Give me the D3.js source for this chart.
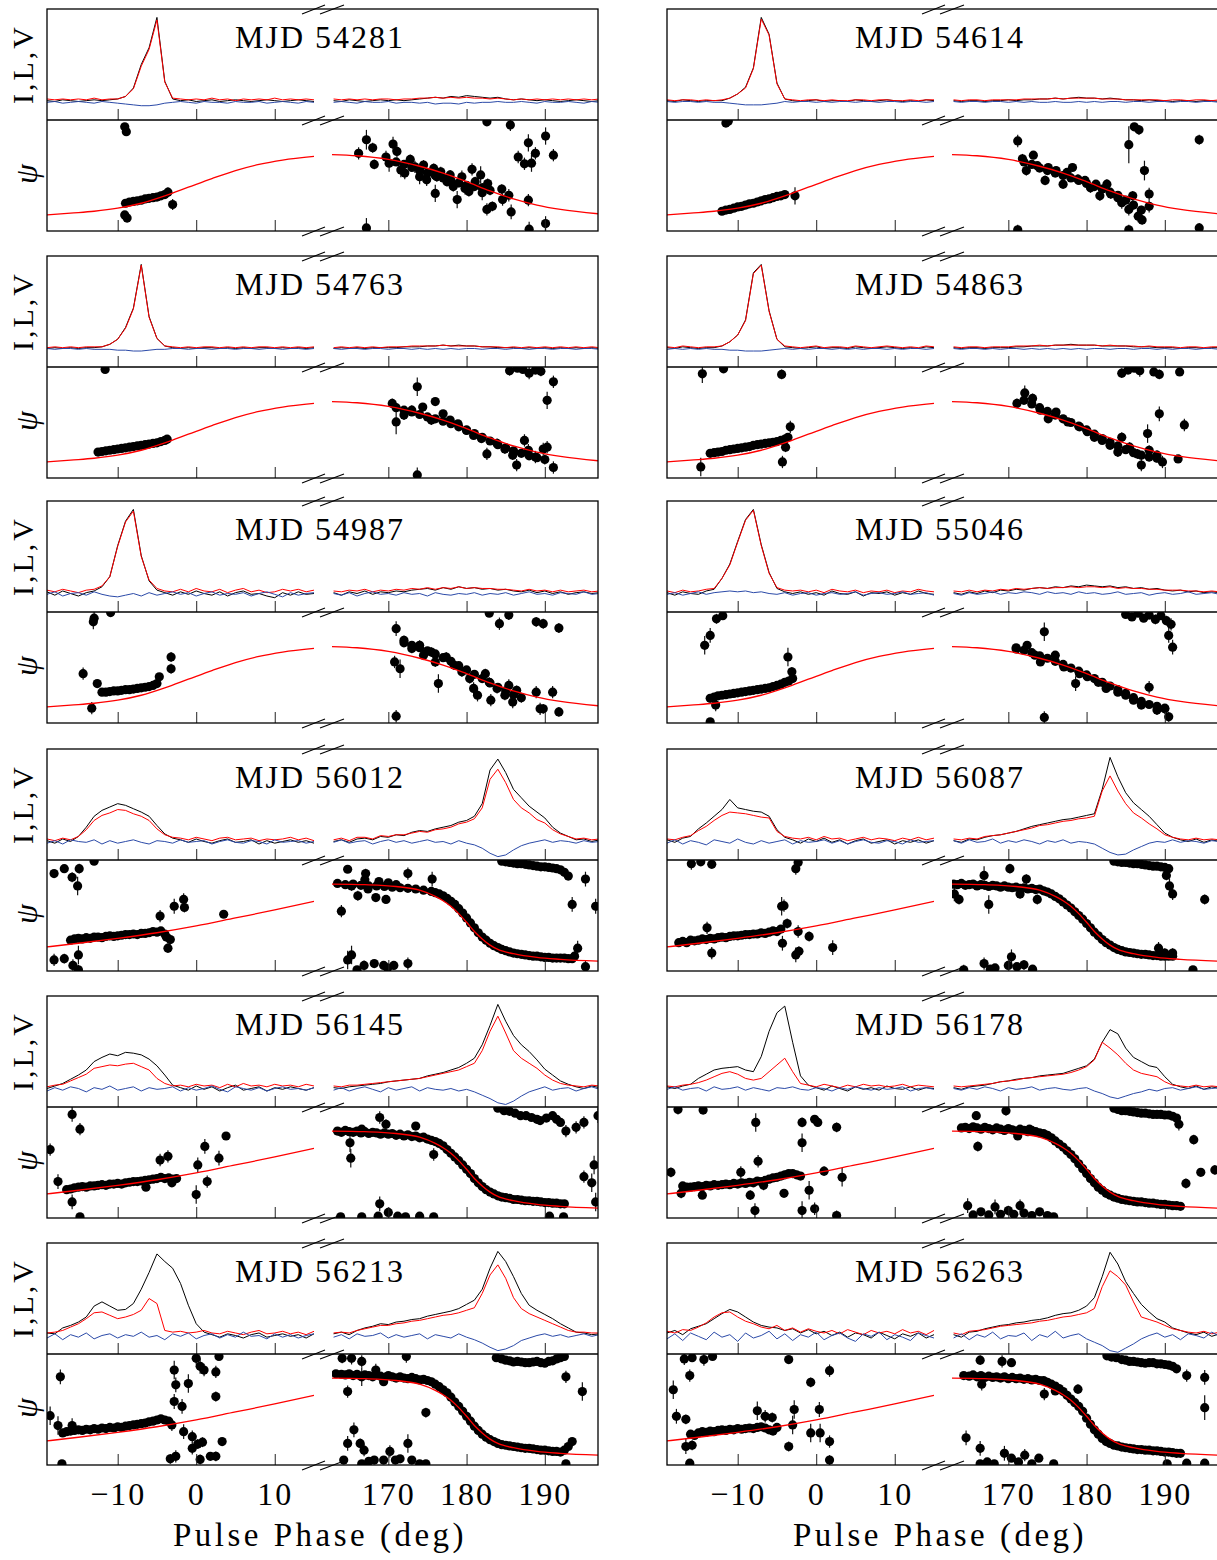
<!DOCTYPE html>
<html><head><meta charset="utf-8">
<script src="https://cdn.jsdelivr.net/npm/d3@7"></script>
<style>
body{margin:0;background:#fff}
text{font-family:"Liberation Serif","DejaVu Serif",serif;fill:#000}
</style>
</head><body>
<script>
// Epochs, one panel each (left column first, then right, row by row)
const mjdLabels = ["54281","54614","54763","54863","54987","55046","56012","56087","56145","56178","56213","56263"];

// Pulse phase grid (deg) of the two plotted windows
const phaseLeft = [-19,-18,-17,-16,-15,-14,-13,-12,-11,-10,-9,-8,-7,-6,-5,-4,-3,-2,-1,0,1,2,3,4,5,6,7,8,9,10,11,12,13,14,15];
const phaseRight = [163,164,165,166,167,168,169,170,171,172,173,174,175,176,177,178,179,180,181,182,183,184,185,186,187,188,189,190,191,192,193,194,195,196,197];

// Tick values of the broken phase axis
const ticksLeft = [-10, 0, 10];
const ticksRight = [170, 180, 190];

// Total intensity I, linear L and circular V (percent of peak I); 35 left-window values then 35 right-window values
const I54281 = [1,0,2,1,0, 1,2,1,2,3, 6,16,44,64,100, 24,3,1,2,0, 1,2,0,1,2, 1,0,1,2,1, 0,1,2,1,0,
  1,0,2,1,0, 1,2,1,2,1, 2,3,4,5,4, 6,5,7,6,5, 4,5,3,2,3, 2,1,2,1,0, 1,2,1,0,1];
const L54281 = [3,2,3,2,3, 2,4,2,3,3, 6,15,42,62,97, 23,4,3,2,3, 2,4,2,3,1, 3,2,3,2,4, 2,3,2,3,2,
  3,2,3,2,3, 2,3,3,2,3, 3,4,4,5,4, 5,4,5,4,4, 3,4,3,2,3, 2,3,2,3,2, 3,2,3,2,3];
const V54281 = [-1,0,-2,-1,0, -1,-2,0,-1,-2, -3,-4,-5,-5,-4, -2,-1,0,-1,-2, 0,-1,-1,-2,0, -1,-1,0,-2,-1, 0,-1,-2,0,-1,
  -1,0,-1,-2,0, -1,-1,0,-2,-1, -1,-2,-1,-3,-2, -2,-3,-1,-2,-1, -1,0,-1,-1,0, -1,-2,0,-1,-1, 0,-1,-2,0,-1];

const I54614 = [1,0,2,1,0, 1,1,1,4,9, 17,40,100,80,22, 3,1,0,1,2, 0,1,1,0,2, 1,0,1,2,1, 0,1,0,2,1,
  1,0,1,1,0, 1,1,2,1,2, 2,3,3,4,3, 4,5,4,4,3, 4,3,2,2,1, 2,1,1,0,1, 1,0,1,1,0];
const L54614 = [2,1,2,2,1, 2,1,2,4,9, 16,39,98,79,21, 3,2,1,2,2, 1,2,1,1,2, 2,1,2,2,1, 1,2,1,2,2,
  2,1,2,2,1, 2,2,2,2,3, 3,3,3,4,3, 4,4,4,4,3, 3,3,2,2,2, 2,2,1,2,2, 1,2,2,1,2];
const V54614 = [0,-1,0,0,-1, 0,-1,-1,-2,-3, -4,-4,-4,-3,-2, 0,-1,0,0,-1, 0,-1,0,0,-1, 0,0,-1,0,0, -1,0,0,-1,0,
  0,-1,0,0,-1, 0,0,-1,0,-1, 0,-1,-1,0,-1, -1,0,-1,0,-1, 0,0,-1,0,0, -1,0,0,-1,0, 0,-1,0,0,-1];

const I54763 = [0,1,0,1,0, 1,1,2,5,11, 25,48,100,38,12, 3,1,0,1,0, 1,1,0,1,0, 1,0,1,1,0, 1,0,1,0,1,
  0,1,0,1,0, 1,1,1,1,2, 2,2,3,3,4, 3,4,3,3,2, 2,1,1,1,0, 1,0,1,0,1, 0,1,0,1,0];
const L54763 = [1,2,1,2,1, 2,2,2,5,11, 24,47,99,37,12, 3,2,1,2,1, 2,2,1,2,1, 2,1,2,2,1, 2,1,2,1,2,
  1,2,1,2,1, 2,1,2,2,2, 3,3,3,3,4, 3,3,3,3,2, 2,2,1,2,1, 2,1,2,1,2, 1,2,1,2,1];
const V54763 = [0,-1,0,0,-1, 0,-1,-1,-1,-2, -2,-3,-3,-2,-1, -1,0,0,-1,0, 0,-1,0,0,-1, 0,0,-1,0,0, -1,0,0,-1,0,
  0,-1,0,0,-1, 0,0,-1,0,0, -1,0,-1,0,-1, 0,-1,0,0,-1, 0,0,-1,0,0, -1,0,0,-1,0, 0,-1,0,0,-1];

const I54863 = [1,0,2,1,0, 1,1,3,8,16, 34,90,100,45,11, 2,1,0,1,2, 0,1,1,0,2, 1,0,1,2,1, 0,1,0,2,1,
  1,0,1,1,0, 1,1,1,2,2, 3,3,3,4,4, 5,4,4,4,3, 3,3,3,2,2, 2,1,1,1,0, 1,1,0,1,1];
const L54863 = [2,1,3,2,1, 2,2,3,8,16, 33,89,99,44,11, 3,2,1,2,3, 1,2,2,1,3, 2,1,2,3,2, 1,2,1,3,2,
  2,1,2,2,1, 2,2,2,3,3, 3,4,3,4,4, 4,4,4,4,3, 4,3,3,3,2, 3,2,2,2,1, 2,2,1,2,2];
const V54863 = [-1,0,-1,0,-1, 0,-1,-1,-2,-2, -3,-3,-3,-2,-1, 0,-1,0,-1,0, 0,-1,0,-1,0, -1,0,0,-1,0, -1,0,0,-1,0,
  0,-1,0,0,-1, 0,-1,0,0,-1, 0,-1,0,-1,0, -1,0,-1,0,0, -1,0,0,-1,0, 0,-1,0,-1,0, 0,-1,0,0,-1];

const I54987 = [2,-2,3,0,-3, 1,3,8,20,57, 86,100,45,15,4, 1,-2,2,-1,3, 0,-2,2,-3,1, 3,-1,0,-3,-5, 1,-2,2,-1,0,
  1,-2,2,0,3, -1,2,1,3,2, 4,5,6,4,7, 5,8,6,7,5, 6,4,5,3,2, 4,1,3,0,2, -1,1,2,0,1];
const L54987 = [4,2,5,3,1, 4,5,9,20,56, 85,98,44,16,6, 3,2,5,2,6, 3,2,5,1,4, 6,2,4,1,2, 5,3,5,2,4,
  3,2,4,3,5, 2,4,3,5,4, 6,5,7,5,7, 6,8,6,7,6, 6,5,5,4,3, 5,3,4,2,4, 2,3,4,2,3];
const V54987 = [-1,2,-3,0,1, -2,2,-1,-3,-4, -2,0,-3,1,-2, 0,2,-1,1,-3, 0,2,-2,0,-1, 1,-3,0,2,-1, -4,1,-2,0,1,
  0,-2,1,-3,0, 2,-1,0,-2,1, -1,0,-3,1,-1, -2,0,-1,1,-2, 0,-1,1,-2,0, 2,-1,0,-2,1, 0,-1,2,-1,0];

const I55046 = [1,-2,2,0,-1, 3,5,18,35,62, 88,100,58,25,6, 2,0,2,-1,1, -2,3,0,-1,2, -3,1,0,2,-2, 1,-1,3,0,-1,
  1,-1,2,0,3, 1,4,3,5,4, 6,7,6,8,7, 9,8,10,9,8, 9,7,8,6,7, 5,6,4,3,4, 2,3,1,2,1];
const L55046 = [3,1,4,2,3, 5,6,18,34,61, 87,99,57,24,7, 4,3,4,2,4, 1,5,3,2,4, 1,3,2,4,1, 3,2,5,3,2,
  3,2,4,2,4, 3,5,4,6,5, 6,7,6,7,7, 8,7,8,8,7, 8,6,7,6,6, 5,5,4,4,4, 3,3,2,3,2];
const V55046 = [-1,1,-2,0,2, -1,1,2,3,2, 3,1,2,0,-1, 1,-2,0,1,-2, 0,1,-1,0,2, -2,0,1,-1,0, 2,-1,0,1,-2,
  0,-2,1,-1,0, 2,-1,1,0,2, 1,-1,2,0,1, -1,2,0,1,-1, 0,2,-1,0,1, -2,0,1,-1,0, 2,-1,0,1,-1];

const I56012 = [1,-2,3,0,6, 17,30,37,41,45, 43,39,35,30,19, 9,4,2,-1,3, 0,-2,1,3,-1, 0,2,-3,1,-2, 0,2,-1,1,-2,
  0,2,-1,3,4, 2,6,5,8,7, 11,13,12,15,17, 19,23,25,30,45, 85,98,82,62,52, 42,35,28,17,10, 6,2,3,0,2];
const L56012 = [3,1,4,2,6, 14,25,31,34,38, 37,33,30,25,15, 8,5,4,2,5, 3,1,4,5,2, 3,4,1,3,2, 3,5,2,4,1,
  2,4,1,5,5, 3,7,6,8,8, 10,12,11,14,15, 17,21,23,27,40, 74,86,70,50,40, 34,26,22,14,9, 6,3,4,2,3];
const V56012 = [-2,1,-3,2,0, -1,2,-3,1,-2, 0,2,-1,-3,1, 0,-2,2,-1,0, 1,-3,0,2,-1, -2,1,0,-3,2, -1,0,1,-2,0,
  -1,2,-2,0,1, -3,0,2,-1,1, -2,0,2,-1,0, -3,1,-2,-4,-8, -14,-18,-16,-10,-5, -2,0,2,-1,1, 0,-2,1,-1,0];

const I56087 = [2,-1,4,6,15, 22,30,38,50,40, 38,36,35,30,14, 5,2,-2,3,0, 4,-1,2,-3,1, 3,-2,0,2,-3, 1,-1,2,-2,1,
  1,-1,3,2,5, 7,8,10,12,15, 18,20,22,24,26, 27,29,31,33,62, 100,77,58,46,38, 30,20,10,5,2, 0,3,-1,2,0];
const L56087 = [3,2,5,7,13, 18,25,31,35,34, 33,31,29,28,12, 6,4,3,5,2, 6,3,4,1,3, 5,2,4,3,1, 4,2,5,2,4,
  3,2,4,3,6, 7,8,10,12,14, 16,19,20,22,24, 25,27,28,30,60, 78,60,45,34,28, 21,15,8,5,3, 2,4,2,3,2];
const V56087 = [-2,2,-3,1,-1, -4,2,0,-2,3, -1,-3,1,-2,0, 2,-3,1,-1,0, 2,-2,1,-3,0, 2,-1,-2,1,0, -3,2,-1,0,1,
  1,-2,2,-1,0, 3,-2,1,-1,2, 0,-3,1,-1,2, -2,0,-1,-3,-8, -13,-16,-15,-10,-6, -2,0,-1,2,-1, 1,0,-2,1,0];

const I56145 = [0,3,6,11,16, 22,32,37,41,39, 43,42,40,35,27, 16,4,1,-2,3, -1,2,-3,1,4, -2,0,2,-3,1, -1,2,0,-2,1,
  1,0,2,3,4, 5,6,8,9,10, 11,12,15,17,19, 22,25,30,36,52, 75,100,80,63,52, 44,34,23,16,9, 5,2,0,3,1];
const L56145 = [2,4,5,9,13, 17,24,26,28,27, 29,30,26,22,12, 6,3,4,2,5, 3,4,1,5,2, 6,3,4,2,5, 3,4,2,5,3,
  3,2,4,4,5, 6,7,8,9,10, 11,12,14,16,18, 20,22,26,30,45, 68,86,66,45,36, 30,24,16,10,6, 4,3,2,4,3];
const V56145 = [-3,1,-2,2,0, -4,1,-1,3,-2, 0,2,-3,1,-1, 0,2,-3,1,-2, 0,3,-1,-4,2, 0,-2,1,-3,0, 2,-1,0,-2,1,
  -2,1,-3,0,2, -1,-4,1,-2,0, 2,-3,1,-1,-2, 0,-3,-1,-4,-8, -12,-17,-19,-15,-9, -4,-1,2,-2,0, 1,-3,0,2,-1];

const I56178 = [2,0,3,5,12, 17,22,24,25,26, 22,20,38,68,90, 98,55,15,4,1, -2,3,0,-3,2, -1,1,-2,3,0, -1,2,-2,1,0,
  1,-1,2,3,4, 6,8,9,11,12, 13,15,16,17,18, 21,24,27,35,55, 70,65,48,37,32, 27,25,14,5,2, 0,3,-1,2,0];
const L56178 = [3,2,4,5,7, 10,14,18,20,17, 12,10,12,20,28, 36,20,6,4,2, 5,3,1,4,2, 5,3,4,2,3, 5,2,4,3,2,
  3,2,3,4,5, 6,8,9,10,12, 13,14,15,16,17, 19,22,26,34,55, 48,40,30,22,18, 16,14,8,4,3, 2,4,2,3,2];
const V56178 = [-1,2,-2,0,1, -3,2,-1,0,2, -2,1,-1,-3,1, 0,2,-1,-2,1, 0,-3,1,-1,2, 0,-2,1,-1,0, 2,-3,0,1,-1,
  0,-2,1,-1,2, 0,-3,1,-1,0, 2,-2,0,1,-1, -2,0,1,-3,-6, -10,-12,-9,-6,-4, -1,-3,0,1,-2, 0,2,-1,0,1];

const I56213 = [3,2,9,12,16, 22,35,40,35,30, 31,38,55,75,97, 88,80,62,36,14, 4,1,-2,2,0, -3,1,3,-2,0, 2,-1,1,-3,2,
  2,4,1,6,9, 11,14,13,16,17, 19,20,23,25,27, 29,32,37,42,55, 80,100,88,70,50, 36,30,25,20,14, 9,4,3,1,2];
const L56213 = [3,4,6,10,14, 20,27,28,24,20, 22,25,30,44,38, 6,4,5,3,4, 6,3,2,5,3, 1,4,6,2,3, 5,2,4,1,5,
  3,4,3,6,8, 10,12,12,14,15, 17,18,20,22,24, 25,27,30,33,50, 72,84,68,45,32, 26,22,18,14,10, 6,4,4,3,3];
const V56213 = [-3,2,-5,1,-2, 3,-4,0,2,-3, 1,-1,4,-2,0, -5,2,-1,3,-4, 0,2,-3,1,-2, 4,-1,0,-4,2, -2,1,-3,0,2,
  -2,1,-4,2,-1, 0,3,-3,1,-2, 0,2,-4,1,-1, -3,2,-2,-5,-9, -14,-18,-16,-12,-6, -3,0,2,-1,1, -2,0,2,-1,1];

const I56263 = [3,6,1,8,11, 14,20,26,31,28, 22,16,12,10,9, 6,8,3,7,2, 5,0,4,-2,3, 1,-3,4,0,-4, 2,-1,3,-3,1,
  1,-2,4,5,8, 10,12,13,15,16, 18,19,21,24,26, 27,30,35,45,70, 99,85,64,50,37, 28,20,16,9,6, 3,1,4,-1,2];
const L56263 = [5,3,7,6,10, 15,22,27,28,22, 17,14,10,8,12, 6,9,4,8,5, 3,6,2,7,4, 1,6,3,5,2, 7,3,5,1,6,
  3,1,5,6,7, 9,11,12,13,14, 15,17,18,20,22, 23,25,27,32,58, 77,70,60,40,22, 19,16,12,8,6, 4,3,5,2,4];
const V56263 = [-4,2,-6,3,-1, -5,4,-2,1,-7, 3,-3,0,5,-4, 2,-6,1,-2,4, -5,0,3,-3,-7, 2,-1,4,-5,1, -2,-6,3,0,-3,
  -3,2,-5,1,-2, 4,-4,0,-1,3, -6,1,-2,5,-3, 0,2,-4,-8,-12, -18,-20,-15,-10,-4, 0,3,-2,1,-5, 2,0,-3,4,-1];

// Position angle psi (deg) measurements: [phase, psi, 1-sigma error]
const pa54281 = [[-9,-45,4],[-8.5,-43,4],[-8,-42,3],[-7.5,-41,3],[-7,-40,3],[-6.5,-38,3],[-6,-37,3],[-5.5,-36,3],[-5,-35,3],[-4.5,-33,4],[-4,-31,4],[-3.6,-27,8],[-9.1,-64,5],[-8.8,-69,5],[-9.1,79,5],[-8.9,71,5],[-3,-47,9],
  [166.2,36,10],[167.2,58,16],[168,45,8],[168.2,18,8],[169.7,30,10],[170.6,51,12],[171.1,39,10],[170.1,20,14],[171.6,9,12],[172.8,26,8],[172.1,4,10],[173.4,14,10],[174,-2,12],[174.5,17,8],[174.9,-7,10],[175.8,11.5,8],[176,-29,14],[176.2,-2,8],[176.7,6,8],[177.5,-10,8],[177.9,1,8],[178.3,-18,8],[178.8,-39,14],[179.4,-2,10],[179.8,-21,10],[180.3,-26,8],[180.7,10,10],[181.1,-10,8],[181.8,1,14],[182,-28,12],[182.7,-13,8],[182.6,-55,10],[183.3,-50,8],[184.5,-22,8],[184.6,-39,10],[185.4,-32,10],[185.7,-59,12],[182.6,87,5],[185.6,82,10],[186.6,30,10],[187.4,19,10],[187.9,53,14],[188.3,20,14],[188.8,36,10],[187.9,-40,10],[188,-87,12],[190.1,64,14],[191.1,33,10],[190.1,-78,12],[167.2,-85,16],[171,22,6],[172,18,6],[173,13,6],[174,8,6],[175,4,6],[176,0,6],[177,-4,6],[178,-8,7],[179,-12,7],[180,-16,7],[181,-18,7],[182,-20,8],[183,-24,8]];

const pa54614 = [[-12,-58,3],[-11.5,-56,3],[-11,-55,3],[-10.5,-53,3],[-10,-51,3],[-9.5,-50,3],[-9,-48,3],[-8.5,-46,3],[-8,-45,3],[-7.5,-43,3],[-7,-41,3],[-6.5,-39,3],[-6,-38,3],[-5.5,-36,3],[-5,-34,3],[-4.5,-33,3],[-4,-31,4],[-2.7,-33,14],[-11.5,85,4],[-11.2,88,4],
  [171.2,56,10],[171.8,27,8],[172.3,8,8],[173.2,33,6],[173.7,16,6],[174.7,-8,8],[175.1,13,6],[176.1,8,6],[177,-14,8],[177.5,5,6],[178.2,13,6],[178.9,-6,8],[179.8,-8,6],[180.5,-20,8],[181.2,-14,6],[181.7,-33,8],[182.6,-14,8],[183.1,-30,8],[184,-36,8],[184.5,-44,10],[185.4,-55,10],[185.9,-33,8],[186.6,-66,10],[187.1,-72,8],[187.4,8,16],[188,-30,10],[188,-50,10],[185.4,50,30],[186.1,79,6],[186.7,74,8],[185.4,-88,8],[171.2,-88,8],[194.4,58,8],[194.4,-85,8],[172,22,5],[173,18,5],[174,12,5],[175,8,5],[176,4,5],[177,0,5],[178,-4,5],[179,-8,5],[180,-13,5],[181,-18,5],[182,-22,5],[183,-27,5],[184,-32,6],[185,-40,6],[186,-48,7],[187,-56,7]];

const pa54763 = [[-12.5,-48,3],[-12,-47,3],[-11.5,-46,3],[-11,-45,3],[-10.5,-44,3],[-10,-43,3],[-9.5,-42,3],[-9,-41,3],[-8.5,-40,3],[-8,-39,3],[-7.5,-38,3],[-7,-37,3],[-6.5,-36,3],[-6,-35,3],[-5.5,-34,3],[-5,-33,3],[-4.5,-31,3],[-4,-29,4],[-3.7,-27,5],[-11.6,86,4],
  [170.5,31,8],[171,1,20],[172,12,8],[173.7,58,15],[173.7,-85,12],[173,20,8],[174.4,25,6],[176,34,6],[175.5,4,8],[177,14,6],[177.9,4,6],[178.9,-2,6],[180,-13,6],[180.9,-21,6],[181.9,-26,6],[182.6,-51,10],[183.9,-34,8],[184.9,-43,8],[185.9,-53,8],[186.4,-69,10],[187.4,-29,10],[187.9,-45,10],[188.8,-56,10],[189.8,-43,10],[190.3,-40,10],[191.1,-73,10],[191.1,66,10],[190.3,36,14],[185.5,84,8],[186.5,88,6],[187.2,86,6],[188,80,10],[188.8,85,6],[189.5,83,8],[171,24,5],[172,20,5],[173,17,5],[174,13,5],[175,9,5],[176,6,5],[177,2,5],[178,-2,5],[179,-7,5],[180,-12,5],[181,-18,5],[182,-24,5],[183,-30,5],[184,-36,6],[185,-41,6],[186,-46,6],[187,-50,6],[188,-54,7],[189,-57,7],[190,-60,8]];

const pa54863 = [[-13.5,-50,4],[-13,-49,4],[-12.5,-48,3],[-12,-47,3],[-11.5,-45,3],[-11,-44,3],[-10.5,-43,3],[-10,-42,3],[-9.5,-41,3],[-9,-40,3],[-8.5,-39,3],[-8,-37,3],[-7.5,-36,3],[-7,-35,3],[-6.5,-34,3],[-6,-33,3],[-5.5,-32,3],[-5,-31,4],[-4.5,-29,4],[-4,-27,5],[-3.6,-24,6],[-14.7,-72,15],[-14.5,79,15],[-11.8,87,5],[-4.4,78,8],[-4.3,-64,10],[-3.3,-7,10],[-3.9,-40,8],
  [172.1,48,12],[173.1,39,8],[171.1,31,8],[174.1,20,6],[175.1,6,6],[176.1,17,6],[177.6,1,6],[179.1,-7,6],[180.1,-15,6],[181,-24,6],[182,-29,6],[183,-37,6],[184,-48,8],[184.5,-24,8],[185.5,-40,8],[186.5,-51,8],[187,-69,10],[188,-45,8],[189,-53,8],[189.7,-64,10],[191.7,-59,6],[189.3,14,12],[187.8,-18,15],[192.5,-4,10],[184.5,80,8],[185.3,85,6],[186.1,88,5],[186.8,84,10],[188.6,82,6],[189.3,78,8],[191.9,82,5],[172,36,5],[173,30,5],[174,24,5],[175,18,5],[176,12,5],[177,6,5],[178,0,5],[179,-6,5],[180,-12,5],[181,-19,5],[182,-26,5],[183,-32,5],[184,-38,5],[185,-44,6],[186,-49,6],[187,-53,6],[188,-56,7],[189,-58,7]];

const pa54987 = [[-12,-40,3],[-11.5,-40,3],[-11,-39,3],[-10.5,-38,3],[-10,-38,3],[-9.5,-37,3],[-9,-36,3],[-8.5,-36,3],[-8,-35,3],[-7.5,-34,3],[-7,-33,3],[-6.5,-32,3],[-6,-31,3],[-5.5,-29,4],[-5,-26,4],[-4.7,-15,5],[-3.2,17,8],[-3.2,-2,8],[-14.4,-10,10],[-12.6,-26,5],[-13.3,-66,10],[-13.1,74,12],[-13,80,10],[-10.9,89,4],
  [171,63,12],[170.8,9,10],[171.5,-2,15],[171,-79,10],[172,44,8],[173,31,8],[174,36,8],[174.5,20,8],[175.5,25,8],[176,9,8],[176.4,-26,15],[177.4,17,8],[178.4,4,8],[179.4,-7,8],[180.4,-18,8],[180.9,-34,10],[181.4,-45,10],[182.4,-10,8],[182.9,-24,8],[183.1,-53,10],[183.9,-34,8],[184.9,-45,8],[185.4,-29,10],[185.9,-56,10],[186.4,-37,8],[188.9,-40,10],[189.4,-67,10],[189.8,-67,8],[191.8,-72,8],[191,-40,10],[182.9,88,6],[184.2,71,10],[185.4,85,8],[188.9,74,8],[189.8,71,8],[191.8,64,8],[172,40,6],[173,36,6],[174,32,6],[175,27,6],[176,22,6],[177,16,6],[178,10,6],[179,3,6],[180,-4,6],[181,-11,6],[182,-18,6],[183,-25,6],[184,-32,7],[185,-38,7],[186,-44,8],[187,-49,8]];

const pa55046 = [[-13.5,-50,4],[-13,-48,3],[-12.5,-46,3],[-12,-45,3],[-11.5,-44,3],[-11,-43,3],[-10.5,-42,3],[-10,-41,3],[-9.5,-40,3],[-9,-39,3],[-8.5,-38,3],[-8,-37,3],[-7.5,-36,3],[-7,-35,3],[-6.5,-34,3],[-6,-33,3],[-5.5,-31,3],[-5,-29,3],[-4.5,-27,4],[-4,-24,4],[-3.5,-22,5],[-3,-18,6],[-13.5,-88,5],[-12.8,-61,10],[-14.2,36,15],[-13.5,52,12],[-12.7,79,8],[-11.9,84,5],[-3.6,17,15],[-3.1,-7,8],
  [171,30,6],[174.6,58,15],[172.4,36,6],[173.4,20,6],[174.1,9,6],[176,20,6],[177.1,1,6],[178.6,-26,12],[179.1,-10,6],[180.1,-15,6],[181.5,-24,6],[182.5,-34,6],[184,-40,6],[185,-45,6],[186,-53,6],[187,-61,6],[188,-32,10],[189,-69,8],[190,-67,8],[190.5,-80,8],[174.6,-81,10],[185,86,6],[185.8,82,6],[186.6,88,5],[187.3,80,6],[188,85,5],[188.8,78,8],[189.5,84,6],[190.2,76,8],[191,33,12],[190.5,52,12],[190.8,70,10],[171,32,5],[172,28,5],[173,24,5],[174,19,5],[175,15,5],[176,10,5],[177,5,5],[178,-1,5],[179,-6,5],[180,-12,5],[181,-18,5],[182,-24,5],[183,-30,5],[184,-36,5],[185,-42,5],[186,-49,6],[187,-55,6],[188,-60,6],[189,-63,7],[190,-66,7]];

const pa56012 = [[-16,-40,5],[-15.5,-38,5],[-15,-37,4],[-14.5,-38,4],[-14,-36,3],[-13.5,-37,3],[-13,-35,3],[-12.5,-35,3],[-12,-36,3],[-11.5,-34,3],[-11,-33,3],[-10.5,-34,3],[-10,-33,3],[-9.5,-32,3],[-9,-31,3],[-8.5,-31,3],[-8,-30,3],[-7.5,-31,3],[-7,-29,3],[-6.5,-29,3],[-6,-28,3],[-5.5,-26,4],[-5,-27,4],[-4.5,-25,5],[-4,-30,6],[-3.8,-35,6],
  [-4.6,-1,10],[-2.8,15,12],[-1.6,26,10],[-1.5,13,8],[-3.6,-53,8],[-3.3,-39,8],[3.5,2,5],[-18.1,68,6],[-16.8,76,6],[-15.8,62,8],[-15.1,48,15],[-14.9,76,8],[-13,88,5],[-18.1,-72,10],[-16.8,-70,8],[-15.7,-81,10],[-15,-64,15],[-15,-88,8],
  [163.5,52,3],[164.5,50,3],[165.5,51,3],[166.5,49,3],[167.5,48,3],[168.5,48,3],[169.5,47,3],[170.5,46,3],[171.5,45,3],[172.5,44,3],[173.5,43,3],[174.5,41,3],[175.5,39,3],[176,37,3],[176.5,35,3],[177,32,3],[177.5,28,3],[178,23,3],[178.5,18,3],[179,11,3],[179.5,4,3],[180,-4,3],[180.5,-12,3],[181,-20,3],[181.5,-28,3],[182,-35,3],[182.5,-40,3],[183,-45,3],[183.5,-49,3],[184,-52,3],[184.5,-55,3],[185,-57,3],[185.5,-59,3],[186,-61,3],[186.5,-62,3],[187,-63,3],[187.5,-64,3],[188,-65,3],[188.5,-66,3],[189,-66,3],[189.5,-67,3],[190,-68,3],[190.5,-68,3],[191,-69,3],[191.5,-69,3],[192,-69,4],[192.5,-69,4],[193,-70,5],[193.5,-70,5],
  [164.8,75,6],[165.3,48,8],[164,7,10],[166.1,32,8],[167.1,68,8],[167.4,43,6],[168.4,29,6],[169.7,26,6],[172.5,68,10],[175.6,59,12],[167,58,4],[168.8,55,4],[170,53,4],[171,50,5],[164.8,-72,15],[165.3,-64,15],[166.9,-81,8],[168.2,-78,6],[169.4,-81,6],[170.7,-81,6],[172.5,-78,10],[166,-88,5],[169.9,-85,5],[193.5,18,12],[195.2,59,12],[196.5,15,12],[194.2,-53,12],[195.2,-83,10],[193.8,-66,8],
  [184.5,88,3],[185,87,3],[185.5,86,3],[186,85,3],[186.5,84,3],[187,84,3],[187.5,83,3],[188,82,3],[188.5,81,3],[189,80,3],[189.5,79,3],[190,79,3],[190.5,78,3],[191,77,3],[191.5,76,4],[192,74,4],[192.5,70,5],[193,64,6]];

const pa56087 = [[-17.5,-44,5],[-17,-42,5],[-16.5,-44,4],[-16,-40,4],[-15.5,-41,4],[-15,-40,4],[-14.5,-38,4],[-14,-39,3],[-13.5,-37,3],[-13,-38,3],[-12.5,-36,3],[-12,-35,3],[-11.5,-36,3],[-11,-34,3],[-10.5,-33,3],[-10,-33,3],[-9.5,-32,3],[-9,-31,3],[-8.5,-31,3],[-8,-30,3],[-7.5,-30,3],[-7,-28,3],[-6.5,-29,3],[-6,-27,3],[-5.5,-25,4],[-5,-26,4],[-4.5,-22,5],
  [-4.4,15,15],[-4.1,16,10],[-4.3,-45,12],[-3.7,-13,8],[-2.3,-26,10],[-2.6,-64,12],[-2.2,-58,8],[-0.9,-34,8],[2.1,-52,12],[-13.9,-20,10],[-13.3,-61,10],[-15.9,84,10],[-14.7,87,5],[-13.3,83,6],[-2.6,76,10],[-2.3,86,5],
  [163,51,4],[163.5,50,3],[164,52,3],[164.5,49,3],[165,50,3],[165.5,51,3],[166,48,3],[166.5,50,3],[167,49,3],[167.5,47,3],[168,49,3],[168.5,48,3],[169,46,3],[169.5,48,3],[170,46,3],[170.5,45,3],[171,46,3],[171.5,44,3],[172,45,3],[172.5,43,3],[173,44,3],[173.5,42,3],[174,43,3],[174.5,40,3],[175,38,3],[175.5,35,3],[176,31,3],[176.5,27,3],[177,22,3],[177.5,17,3],[178,12,3],[178.5,6,3],[179,0,3],[179.5,-6,3],[180,-13,3],[180.5,-20,3],[181,-27,3],[181.5,-33,3],[182,-39,3],[182.5,-44,3],[183,-48,3],[183.5,-52,3],[184,-55,3],[184.5,-57,3],[185,-59,3],[185.5,-60,3],[186,-61,3],[186.5,-62,3],[187,-63,3],[187.5,-63,3],[188,-64,3],[188.5,-65,3],[189,-65,3],[189.5,-66,3],[190,-66,3],[190.5,-66,4],[191,-66,4],
  [163.1,35,12],[163.7,26,8],[166.9,65,15],[167.5,18,15],[170.2,76,8],[172.3,59,8],[171.5,35,8],[173.7,26,8],[164.3,-88,8],[166.9,-78,10],[167.7,-87,6],[168.3,-85,6],[170,-81,8],[170.4,-67,12],[171.1,-83,6],[172,-80,8],[173.1,-87,6],[190.2,65,8],[190.6,48,12],[191,35,10],[195.1,26,8],[193.6,-88,6],[189.2,-53,10],[190,-61,8],[191,-61,8],
  [183.5,88,3],[184,87,3],[184.5,86,3],[185,86,3],[185.5,85,3],[186,84,3],[186.5,84,3],[187,83,3],[187.5,82,3],[188,81,3],[188.5,80,3],[189,80,3],[189.5,79,3],[190,78,4],[190.5,76,5]];

const pa56145 = [[-16.5,-44,5],[-16,-43,4],[-15.5,-41,4],[-15,-40,4],[-14.5,-39,3],[-14,-40,3],[-13.5,-38,3],[-13,-38,3],[-12.5,-37,3],[-12,-36,3],[-11.5,-37,3],[-11,-35,3],[-10.5,-35,3],[-10,-34,3],[-9.5,-35,3],[-9,-33,3],[-8.5,-32,3],[-8,-31,3],[-7.5,-31,3],[-7,-30,3],[-6.5,-29,3],[-6,-28,3],[-5.5,-27,4],[-5,-26,4],[-4.5,-24,4],[-4,-26,5],[-3.5,-25,5],[-3,-27,5],[-2.5,-26,5],
  [-6.4,-40,5],[-4.6,4,10],[-3.6,10,10],[-3.1,-33,6],[-18.6,21,10],[-17.6,-31,12],[-15.8,78,12],[-14.8,54,10],[-15.8,-64,12],[-14.8,-88,6],[0,-52,15],[0.2,-4,12],[1.1,26,12],[1.4,-31,10],[2.9,7,12],[3.8,43,6],
  [163.5,51,3],[164,49,3],[164.5,52,3],[165,50,3],[165.5,49,3],[166,51,3],[166.5,48,3],[167,50,3],[167.5,47,3],[168,49,3],[168.5,48,3],[169,46,3],[169.5,48,3],[170,46,3],[170.5,47,3],[171,44,3],[171.5,46,3],[172,43,3],[172.5,45,3],[173,42,3],[173.5,43,3],[174,40,3],[174.5,41,3],[175,38,3],[175.5,36,3],[176,34,3],[176.5,31,3],[177,27,3],[177.5,21,3],[178,15,3],[178.5,9,3],[179,3,3],[179.5,-4,3],[180,-11,3],[180.5,-18,3],[181,-26,3],[181.5,-33,3],[182,-39,3],[182.5,-44,3],[183,-48,3],[183.5,-51,3],[184,-54,3],[184.5,-56,3],[185,-57,3],[185.5,-58,3],[186,-60,3],[186.5,-60,3],[187,-61,3],[187.5,-62,3],[188,-62,3],[188.5,-63,3],[189,-63,3],[189.5,-64,3],[190,-65,3],[190.5,-65,3],[191,-66,3],[191.5,-66,4],[192,-67,4],[192.5,-67,5],
  [165.1,32,15],[165.2,7,15],[166.6,54,6],[168.9,73,10],[169.7,62,8],[173.5,59,6],[175.8,13,10],[163.9,-88,6],[166.6,-88,6],[168.7,-87,6],[168.9,-67,12],[170,-81,8],[171.2,-87,6],[172.2,-88,5],[174,-87,6],[175.8,-88,5],[190.6,-87,6],[192.4,-88,6],[195,-23,10],[196,-33,15],[196.3,-4,15],[196.5,-64,15],[192.7,51,10],[194,57,10],[195,65,10],[196.8,76,12],
  [184,88,3],[184.8,84,3],[185.5,83,3],[186.2,80,3],[186.9,76,3],[187.6,76,3],[188.3,73,3],[189,70,3],[189.4,68,4],[190.2,72,4],[191,76,4],[191.5,70,4],[192,65,5]];

const pa56178 = [[-17,-38,5],[-16.5,-40,4],[-16,-40,4],[-15.5,-39,4],[-15,-38,3],[-14.5,-39,3],[-14,-37,3],[-13.5,-38,3],[-13,-36,3],[-12.5,-37,3],[-12,-36,3],[-11.5,-35,3],[-11,-36,3],[-10.5,-34,3],[-10,-35,3],[-9.5,-33,3],[-9,-34,3],[-8.5,-32,3],[-8,-33,3],[-7.5,-30,4],[-7,-31,4],[-6.5,-29,5],[-6,-27,5],[-5.5,-25,5],[-5,-24,5],[-4.5,-22,5],[-4,-20,5],[-3.5,-18,5],[-3,-18,5],[-2.5,-20,5],[-2,-22,6],
  [-18.5,-16,8],[-17.2,-50,8],[-14.5,-53,6],[-9.6,-16,10],[-8.4,-53,8],[-7.8,-78,12],[-7.4,2,10],[-6.7,-37,8],[-4.1,-50,6],[-0.9,-45,15],[-0.2,-75,10],[1,-14,8],[3.3,-24,15],[-1.8,-78,15],[2.6,-86,8],[-14.4,85,5],[-7.7,65,15],[-1.8,65,8],[-1.8,32,15],[-0.2,70,6],[0.2,65,6],[2.6,57,8],[-17.6,86,8],
  [164,56,4],[164.5,57,4],[165,55,3],[165.5,58,3],[166,56,3],[166.5,54,3],[167,57,3],[167.5,55,3],[168,53,3],[168.5,56,3],[169,54,3],[169.5,52,3],[170,55,3],[170.5,53,3],[171,51,3],[171.5,54,3],[172,52,3],[172.5,50,3],[173,52,3],[173.5,50,3],[174,48,3],[174.5,47,3],[175,44,3],[175.5,40,3],[176,35,3],[176.5,30,3],[177,25,3],[177.5,19,3],[178,13,3],[178.5,6,3],[179,-2,3],[179.5,-10,3],[180,-18,3],[180.5,-26,3],[181,-33,3],[181.5,-40,3],[182,-45,3],[182.5,-50,3],[183,-53,3],[183.5,-56,3],[184,-58,3],[184.5,-60,3],[185,-61,3],[185.5,-62,3],[186,-63,3],[186.5,-64,3],[187,-64,3],[187.5,-65,3],[188,-66,3],[188.5,-66,3],[189,-67,3],[189.5,-68,3],[190,-68,3],[190.5,-69,3],[191,-70,3],[191.5,-70,4],[192,-71,4],
  [165.9,76,6],[166.1,26,8],[169.7,84,8],[172.7,54,6],[171.2,43,6],[193.7,37,8],[192.7,-34,8],[194.6,-16,6],[196.4,-12,8],[164.8,-70,12],[165.5,-85,6],[166.5,-80,6],[167.5,-85,6],[168.3,-72,12],[169,-84,6],[170,-78,8],[170.7,-84,6],[171.5,-70,10],[172,-82,6],[173,-86,6],[174,-80,6],[175,-86,6],[175.8,-88,5],
  [183.5,88,3],[184,86,3],[184.5,84,3],[185,84,3],[185.5,83,3],[186,82,3],[186.5,81,3],[187,80,3],[187.5,80,3],[188,79,3],[188.5,78,3],[189,78,3],[189.5,78,3],[190,77,3],[190.5,77,3],[191,75,4],[191.5,72,4],[191.8,62,10]];

const pa56213 = [[-17,-38,5],[-16.5,-36,5],[-16,-35,4],[-15.5,-34,4],[-15,-33,4],[-14.5,-34,4],[-14,-32,3],[-13.5,-33,3],[-13,-31,3],[-12.5,-32,3],[-12,-30,3],[-11.5,-31,3],[-11,-29,3],[-10.5,-30,3],[-10,-28,3],[-9.5,-29,3],[-9,-27,3],[-8.5,-26,3],[-8,-25,3],[-7.5,-24,3],[-7,-23,3],[-6.5,-22,3],[-6,-20,3],[-5.5,-19,3],[-5,-17,3],[-4.5,-15,4],[-4,-17,4],[-3.5,-19,5],
  [-18.6,-10,15],[-17.6,-26,15],[-17.3,53,12],[-15.8,-26,12],[-17.1,-88,6],[-2.8,64,15],[-2.6,40,12],[-2.8,13,12],[-3.1,-25,10],[-2.6,-76,10],[-1.8,5,12],[-1.6,-36,12],[-1,42,15],[-0.5,-44,10],[-0.5,-63,10],[0,83,10],[0.5,70,12],[0.2,-56,8],[0.5,-81,8],[1,64,10],[0.8,-53,8],[2.5,61,10],[2.5,21,8],[2.9,86,5],[2.5,-76,8],[3.3,-52,5],[1.8,-76,6],[-3.3,-80,8],
  [163.3,58,4],[164,57,4],[164.5,56,3],[165,58,3],[165.5,55,3],[166,57,3],[166.5,54,3],[167,56,3],[167.5,55,3],[168,53,3],[168.5,56,3],[169,54,3],[169.5,52,3],[170,55,3],[170.5,53,3],[171,51,3],[171.5,53,3],[172,51,3],[172.5,50,3],[173,52,3],[173.5,50,3],[174,48,3],[174.5,49,3],[175,47,3],[175.5,45,3],[176,41,3],[176.5,37,3],[177,32,3],[177.5,27,3],[178,20,3],[178.5,12,3],[179,5,3],[179.5,-3,3],[180,-11,3],[180.5,-19,3],[181,-27,3],[181.5,-34,3],[182,-40,3],[182.5,-45,3],[183,-49,3],[183.5,-52,3],[184,-55,3],[184.5,-57,3],[185,-58,3],[185.5,-59,3],[186,-60,3],[186.5,-61,3],[187,-62,3],[187.5,-63,3],[188,-63,3],[188.5,-64,3],[189,-65,3],[189.5,-66,3],[190,-66,3],[190.5,-67,3],[191,-68,3],[191.5,-68,3],[192,-69,4],[192.5,-66,4],[193,-60,5],[193.5,-52,5],
  [164.8,29,10],[166.6,53,15],[168.4,64,10],[169.4,45,6],[172.3,86,10],[174.8,-5,8],[164.1,83,8],[165.3,83,10],[166.6,78,10],[164.3,-82,6],[164.8,-55,12],[165.6,-33,12],[166.4,-55,8],[166.9,-66,10],[166.6,-88,5],[168.2,-82,6],[169.4,-82,6],[170.2,-68,10],[170.9,-82,6],[172.5,-55,15],[173,-82,6],[174,-88,5],[174.8,-88,5],[192.7,53,10],[194.8,29,15],[192.7,-88,6],[171.5,-80,6],[167.5,-84,6],
  [183.8,84,3],[184.5,82,3],[185,80,3],[185.5,79,3],[186,77,3],[186.5,78,3],[187,77,3],[187.5,76,3],[188,76,3],[188.5,77,3],[189,78,3],[189.5,76,3],[190,75,3],[190.5,78,3],[191,79,3],[191.5,82,3],[192,84,3],[192.5,86,3]];

const pa56263 = [[-16,-40,5],[-15.5,-42,5],[-15,-38,4],[-14.5,-36,4],[-14,-37,4],[-13.5,-35,3],[-13,-36,3],[-12.5,-34,3],[-12,-33,3],[-11.5,-34,3],[-11,-32,3],[-10.5,-33,3],[-10,-31,3],[-9.5,-32,3],[-9,-31,3],[-8.5,-30,3],[-8,-31,3],[-7.5,-29,4],[-7,-28,4],[-6.5,-30,4],[-6,-33,4],[-5.5,-35,5],[-5,-29,5],
  [-7.5,-2,15],[-6.5,-11,10],[-5.6,-13,8],[-3.5,-60,8],[-3,-25,15],[-2.8,0,15],[-0.7,44,8],[-0.7,-38,15],[0.4,0,12],[0.5,-38,15],[1.7,63,10],[1.7,-52,10],[1.7,-82,8],[-3.5,81,5],[-18.2,32,15],[-17.8,-11,12],[-16.6,-16,8],[-16.6,-60,12],[-16.1,-87,6],[-15.8,-58,8],[-16.8,82,10],[-16.1,55,10],[-15.8,84,5],[-14.3,81,10],[-13.2,86,5],
  [164.3,55,4],[165,54,3],[165.5,56,3],[166,53,3],[166.5,55,3],[167,52,3],[167.5,54,3],[168,52,3],[168.5,53,3],[169,51,3],[169.5,53,3],[170,50,3],[170.5,52,3],[171,50,3],[171.5,51,3],[172,49,3],[172.5,50,3],[173,48,3],[173.5,49,3],[174,47,3],[174.5,47,3],[175,44,3],[175.5,41,3],[176,38,3],[176.5,34,3],[177,29,3],[177.5,23,3],[178,17,3],[178.5,11,3],[179,5,3],[179.5,-3,3],[180,-14,3],[180.5,-24,3],[181,-33,3],[181.5,-40,3],[182,-47,3],[182.5,-52,3],[183,-55,3],[183.5,-58,3],[184,-59,3],[184.5,-61,3],[185,-62,3],[185.5,-63,3],[186,-64,3],[186.5,-65,3],[187,-65,3],[187.5,-66,3],[188,-66,3],[188.5,-67,3],[189,-67,3],[189.5,-68,3],[190,-69,3],[190.5,-69,3],[191,-70,3],[191.5,-71,3],[192,-71,4],
  [166.4,80,8],[166.6,41,10],[169.2,78,10],[170.4,76,6],[174.6,25,10],[178.9,33,8],[176,30,6],[164.6,-46,12],[166.4,-63,12],[166.4,-88,5],[167.3,-85,6],[168.2,-88,5],[169.5,-71,12],[170.4,-79,6],[171.3,-85,6],[172.1,-74,10],[173,-88,5],[173.9,-79,6],[175.8,-88,5],[192.8,55,10],[195.1,52,12],[195.1,3,20],[195.1,-87,6],[192.8,-87,6],[190.3,-88,5],
  [182.6,87,3],[183.2,85,3],[183.8,84,3],[184.5,81,3],[185,80,3],[185.5,78,3],[186,78,3],[186.5,77,3],[187,76,3],[187.5,75,3],[188,76,3],[188.5,76,3],[189,74,3],[189.5,74,3],[190,73,3],[190.5,72,3],[191,70,4],[191.5,66,6]];

// Rotating-vector-model fits: [phase, psi]
const rvmEarlyLeft = [[-19,-64],[-16,-61],[-13,-58],[-10,-53],[-7,-45],[-4,-33],[-1,-19],[2,-5],[5,8],[8,18],[11,25],[15,31]];
const rvmEarlyRight = [[162.8,34],[166,32],[170,26],[174,15],[177,4],[180,-10],[183,-25],[186,-38],[189,-48],[192,-55],[196.8,-62]];
const rvmLateLeft = [[-19,-51],[-15,-45],[-10,-37],[-5,-28],[0,-17],[5,-4],[10,9],[15,23]];
const rvmLateRight = [[162.8,51],[167,50],[171,47],[174,41],[176,31],[177,24],[178,15],[179,3],[180,-11],[181,-26],[182,-38],[183,-48],[184,-55],[186,-62],[189,-68],[192,-71],[196.8,-74]];

const profI = [I54281,I54614,I54763,I54863,I54987,I55046,I56012,I56087,I56145,I56178,I56213,I56263];
const profL = [L54281,L54614,L54763,L54863,L54987,L55046,L56012,L56087,L56145,L56178,L56213,L56263];
const profV = [V54281,V54614,V54763,V54863,V54987,V55046,V56012,V56087,V56145,V56178,V56213,V56263];
const paSets = [pa54281,pa54614,pa54763,pa54863,pa54987,pa55046,pa56012,pa56087,pa56145,pa56178,pa56213,pa56263];

// ---- layout ----
const W = 1217, H = 1560;
const rowTops = [9, 256, 501, 749, 996, 1243];
const colLefts = [47, 667];
const subH = 111;          // height of each sub-panel
const leftW = 267;         // width of left phase window
const rightX = 285;        // offset of right phase window
const frameW = 551;        // full frame width
const FONT = '"Liberation Serif","DejaVu Serif",serif';
const colors = {I: "#000000", L: "#ff0000", V: "#2b4aa8"};

const svg = d3.select("body").append("svg").attr("width", W).attr("height", H);
const defs = svg.append("defs");

mjdLabels.forEach((mjd, i) => {
  const row = Math.floor(i / 2), col = i % 2;
  const x0 = colLefts[col], top = rowTops[row];
  const xL = d3.scaleLinear().domain([-19, 15]).range([x0, x0 + leftW]);
  const xR = d3.scaleLinear().domain([162.8, 196.8]).range([x0 + rightX, x0 + frameW]);
  const yProf = d3.scaleLinear().domain([-22, 110]).range([top + subH, top]);
  const yPA = d3.scaleLinear().domain([-90, 90]).range([top + 2 * subH, top + subH]);
  const g = svg.append("g");

  const clip = (sx, y, key) => {
    const id = `clip${i}${key}`;
    const [a, b] = sx.range();
    defs.append("clipPath").attr("id", id).append("rect")
      .attr("x", a).attr("y", y).attr("width", b - a).attr("height", subH);
    return `url(#${id})`;
  };

  const segs = [
    {x: xL, ph: phaseLeft, off: 0, rvm: i < 6 ? rvmEarlyLeft : rvmLateLeft, inSeg: p => p < 90},
    {x: xR, ph: phaseRight, off: 35, rvm: i < 6 ? rvmEarlyRight : rvmLateRight, inSeg: p => p >= 90}
  ];

  segs.forEach((s, k) => {
    const cProf = clip(s.x, top, "p" + k);
    const cPA = clip(s.x, top + subH, "a" + k);
    // polarization profiles
    [[profI[i], colors.I], [profL[i], colors.L], [profV[i], colors.V]].forEach(([arr, c]) => {
      const vals = arr.slice(s.off, s.off + 35);
      const line = d3.line().x((d, j) => s.x(s.ph[j])).y(d => yProf(d));
      g.append("path").attr("d", line(vals)).attr("fill", "none")
        .attr("stroke", c).attr("stroke-width", 1).attr("stroke-linejoin", "round").attr("clip-path", cProf);
    });
    // position angles
    const pts = paSets[i].filter(d => s.inSeg(d[0]));
    const gp = g.append("g").attr("clip-path", cPA);
    gp.selectAll("line.err").data(pts).join("line").attr("class", "err")
      .attr("x1", d => s.x(d[0])).attr("x2", d => s.x(d[0]))
      .attr("y1", d => yPA(d[1] - d[2])).attr("y2", d => yPA(d[1] + d[2]))
      .attr("stroke", "#111").attr("stroke-width", 1.2);
    gp.selectAll("circle").data(pts).join("circle")
      .attr("cx", d => s.x(d[0])).attr("cy", d => yPA(d[1])).attr("r", 4.6).attr("fill", "#000");
    // RVM fit
    const rline = d3.line().x(d => s.x(d[0])).y(d => yPA(d[1])).curve(d3.curveMonotoneX);
    gp.append("path").attr("d", rline(s.rvm)).attr("fill", "none")
      .attr("stroke", "#ff0000").attr("stroke-width", 1.3);
    // ticks
    [top + subH, top + 2 * subH].forEach(yb => {
      g.append("g").attr("transform", `translate(0,${yb})`)
        .call(d3.axisBottom(s.x).tickValues(k === 0 ? ticksLeft : ticksRight).tickSize(-11).tickFormat(""))
        .call(a => { a.select(".domain").remove(); a.selectAll("line").attr("stroke", "#222").attr("stroke-width", 1); });
    });
  });

  // frame
  g.append("rect").attr("x", x0).attr("y", top).attr("width", frameW).attr("height", 2 * subH)
    .attr("fill", "none").attr("stroke", "#000").attr("stroke-width", 1.3);
  g.append("line").attr("x1", x0).attr("x2", x0 + frameW).attr("y1", top + subH).attr("y2", top + subH)
    .attr("stroke", "#000").attr("stroke-width", 1.3);

  // axis-break marks
  [top, top + subH, top + 2 * subH].forEach(y => {
    [[255, 278], [273, 297]].forEach(([a, b]) => {
      g.append("line").attr("x1", x0 + a).attr("y1", y + 5).attr("x2", x0 + b).attr("y2", y - 4)
        .attr("stroke", "#000").attr("stroke-width", 1.1);
    });
  });

  // epoch label
  g.append("text").attr("x", x0 + 273).attr("y", top + 39).attr("text-anchor", "middle")
    .attr("font-family", FONT).attr("font-size", 32).attr("letter-spacing", 2)
    .text("MJD " + mjd);

  // y labels on the left column
  if (col === 0) {
    g.append("text").attr("transform", `translate(33,${top + 55}) rotate(-90)`)
      .attr("text-anchor", "middle").attr("font-family", FONT).attr("font-size", 30)
      .attr("letter-spacing", 3).text("I,L,V");
    g.append("text").attr("transform", `translate(37,${top + 165}) rotate(-90)`)
      .attr("text-anchor", "middle").attr("font-family", FONT).attr("font-size", 32)
      .attr("font-style", "italic").text("ψ");
  }

  // phase tick labels and axis title under the bottom row
  if (row === 5) {
    segs.forEach((s, k) => {
      g.append("g").attr("transform", `translate(0,${top + 2 * subH})`)
        .call(d3.axisBottom(s.x).tickValues(k === 0 ? ticksLeft : ticksRight).tickSize(0).tickPadding(17))
        .attr("font-family", FONT).attr("font-size", 32)
        .call(a => { a.select(".domain").remove(); a.selectAll("text").attr("letter-spacing", 2).attr("fill", "#000"); });
    });
    g.append("text").attr("x", x0 + 273).attr("y", 1546).attr("text-anchor", "middle")
      .attr("font-family", FONT).attr("font-size", 33).attr("letter-spacing", 3.5)
      .text("Pulse Phase (deg)");
  }
});
</script>
</body></html>
